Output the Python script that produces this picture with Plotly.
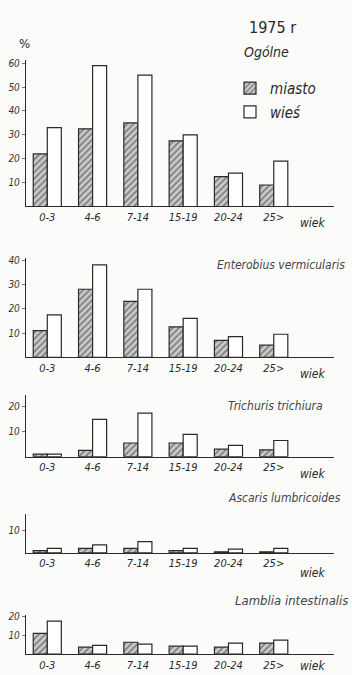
import plotly.graph_objects as go

W, H = 352, 675

categories = ["0-3", "4-6", "7-14", "15-19", "20-24", "25>"]

ogolne_miasto = [22, 32.5, 35, 27.5, 12.5, 9]
ogolne_wies = [33, 59, 55, 30, 14, 19]
entero_miasto = [11, 28, 23, 12.5, 7, 5]
entero_wies = [17.5, 38, 28, 16, 8.5, 9.5]
trich_miasto = [1, 2.5, 5.5, 5.5, 3, 2.7]
trich_wies = [1, 15, 17.5, 9, 4.5, 6.5]
ascaris_miasto = [1, 2, 2, 1, 0.5, 0.5]
ascaris_wies = [2, 3.5, 5, 2, 1.7, 2]
lamblia_miasto = [11, 3.7, 6.3, 4.2, 3.7, 5.8]
lamblia_wies = [17.5, 4.7, 5.3, 4.2, 5.8, 7.4]

titles = ["Ogólne", "Enterobius vermicularis", "Trichuris trichiura",
          "Ascaris lumbricoides", "Lamblia intestinalis"]
panels = [
    (ogolne_miasto, ogolne_wies),
    (entero_miasto, entero_wies),
    (trich_miasto, trich_wies),
    (ascaris_miasto, ascaris_wies),
    (lamblia_miasto, lamblia_wies),
]
ytick_sets = [[10, 20, 30, 40, 50, 60], [10, 20, 30, 40], [10, 20], [10], [10, 20]]
yranges = [[0, 61.5], [0, 40.8], [0, 24.8], [0, 17], [0, 20.5]]
# panel pixel geometry: (top, bottom)
panel_px = [(55, 203), (255, 355), (393, 455), (513, 552), (615, 654)]

FONT = "Liberation Sans Narrow, DejaVu Sans Condensed, Liberation Sans, sans-serif"
INK = "#2a2a2a"


def px(x, y):
    return x / W, 1 - y / H


def note(text, x, y, size, style="italic", color=INK, xanchor="center"):
    xp, yp = px(x, y)
    return dict(text=text, x=xp, y=yp, xref="paper", yref="paper",
                xanchor=xanchor, yanchor="middle", showarrow=False,
                font=dict(size=size, family=FONT, style=style, color=color))


fig = go.Figure()
layout = dict(
    width=W, height=H, margin=dict(l=0, r=0, t=0, b=0),
    paper_bgcolor="#fbfbfa", plot_bgcolor="rgba(0,0,0,0)",
    barmode="group", bargap=0.38, bargroupgap=0,
    font=dict(family=FONT, color=INK, style="italic"),
    annotations=[],
)

xdom = [26 / W, 334 / W]
for i, ((m, w), (top, bot)) in enumerate(zip(panels, panel_px)):
    n = "" if i == 0 else str(i + 1)
    xa, ya = "x" + n, "y" + n
    fig.add_trace(go.Bar(
        x=categories, y=m, name="miasto", xaxis=xa, yaxis=ya,
        marker=dict(color="#c8c8c8", line=dict(color=INK, width=1.2),
                    pattern=dict(shape="/", fgcolor="#3a3a3a", bgcolor="#cdcdcd",
                                 size=4.5, solidity=0.45)),
        showlegend=(i == 0), legend="legend",
    ))
    fig.add_trace(go.Bar(
        x=categories, y=w, name="wieś", xaxis=xa, yaxis=ya,
        marker=dict(color="white", line=dict(color=INK, width=1.2)),
        showlegend=(i == 0), legend="legend2",
    ))
    layout["xaxis" + n] = dict(
        domain=xdom, anchor=ya, range=[-0.47, 6.33], showline=True,
        linecolor=INK, linewidth=1.3, showgrid=False, ticks="",
        tickfont=dict(size=11, family=FONT, style="italic", color=INK),
        fixedrange=True,
    )
    layout["yaxis" + n] = dict(
        domain=[1 - bot / H, 1 - top / H], anchor=xa, range=yranges[i],
        showline=True, linecolor=INK, linewidth=1.3, showgrid=False,
        tickvals=ytick_sets[i], ticks="outside", ticklen=3, tickcolor="#777",
        tickfont=dict(size=10, family=FONT, style="italic", color="#333"),
        zeroline=False, fixedrange=True,
    )
    wy = [220, 372, 472, 572, 666][i]
    layout["annotations"].append(note("wiek", 312, wy, 12))

ann = layout["annotations"]
ann.append(note("1975 r", 272, 23, 16, style="normal"))
ann.append(note(titles[0], 266, 47, 14))
ann.append(note("%", 24, 39, 13, style="normal"))
for t, (rx, ry, fs) in zip(titles[1:], [(347, 262, 12), (325, 404, 12),
                                          (343, 497, 12), (350, 600, 13)]):
    ann.append(note(t, rx, ry, fs, color="#444", xanchor="right"))

lx, ly = px(230, 84)
layout["legend"] = dict(x=lx, y=ly, xanchor="left", yanchor="middle",
                        bgcolor="rgba(0,0,0,0)",
                        font=dict(size=15, family=FONT, style="italic", color=INK))
lx, ly = px(230, 108)
layout["legend2"] = dict(x=lx, y=ly, xanchor="left", yanchor="middle",
                         bgcolor="rgba(0,0,0,0)",
                         font=dict(size=15, family=FONT, style="italic", color=INK))

fig.update_layout(**layout)
fig.write_html("out.html")
